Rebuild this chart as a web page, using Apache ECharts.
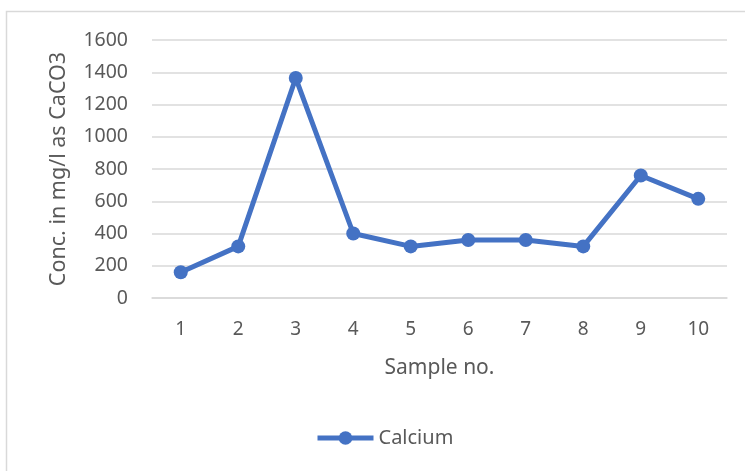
<!DOCTYPE html>
<html>
<head>
<meta charset="utf-8">
<script src="https://cdn.jsdelivr.net/npm/echarts@6/dist/echarts.min.js"></script>
<style>html,body{margin:0;padding:0;background:#fff;}#c{width:745px;height:471px;}</style>
</head>
<body>
<div id="c"></div>
<script>
const categories = ['1','2','3','4','5','6','7','8','9','10'];
const calcium = [160, 320, 1364, 400, 320, 360, 360, 320, 760, 615];
const yTicks = [0, 200, 400, 600, 800, 1000, 1200, 1400, 1600];

const chart = echarts.init(document.getElementById('c'), null, {renderer: 'canvas'});
const font = 'Noto Sans';
const txt = '#595959';
chart.setOption({
  animation: false,
  backgroundColor: '#fff',
  graphic: [{
    type: 'rect', silent: true,
    shape: {x: 6.5, y: 11.5, width: 800, height: 600},
    style: {fill: 'none', stroke: '#d9d9d9', lineWidth: 1.5}
  }],
  grid: {left: 152, right: 18, top: 40, bottom: 173, containLabel: false},
  legend: {
    data: ['Calcium'], bottom: 18, left: 310,
    itemWidth: 56, itemHeight: 17, itemGap: 4,
    lineStyle: {width: 5},
    textStyle: {color: txt, fontFamily: font, fontSize: 20}
  },
  xAxis: {
    type: 'category', data: categories, boundaryGap: true,
    name: 'Sample no.', nameLocation: 'middle', nameGap: 60,
    nameTextStyle: {color: txt, fontFamily: font, fontSize: 21},
    axisLine: {show: true, lineStyle: {color: '#d9d9d9', width: 1.5}},
    axisTick: {show: false},
    axisLabel: {color: txt, fontFamily: font, fontSize: 19, margin: 22}
  },
  yAxis: {
    type: 'value', min: yTicks[0], max: yTicks[yTicks.length-1], interval: 200,
    name: 'Conc. in mg/l as CaCO3', nameLocation: 'middle', nameGap: 82, nameRotate: 90,
    nameTextStyle: {color: txt, fontFamily: font, fontSize: 21.5},
    axisLine: {show: false}, axisTick: {show: false},
    axisLabel: {color: txt, fontFamily: font, fontSize: 19.5, margin: 24, formatter: v => String(v)},
    splitLine: {lineStyle: {color: '#d9d9d9', width: 1.5}}
  },
  series: [{
    name: 'Calcium', type: 'line', data: calcium,
    symbol: 'circle', symbolSize: 14,
    lineStyle: {color: '#4472c4', width: 5},
    itemStyle: {color: '#4472c4'}
  }]
});
</script>
</body>
</html>
